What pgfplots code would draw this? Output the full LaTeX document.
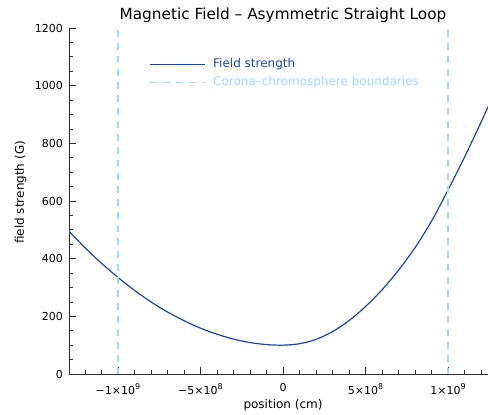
\documentclass[border=0pt]{standalone}
\usepackage{pgfplots}
\pgfplotsset{compat=1.18}
\usepackage{pgfplotstable}
\usepackage{fontspec}
\setmainfont{DejaVu Sans}

\definecolor{fieldblue}{RGB}{28,72,165}
\definecolor{bndblue}{RGB}{160,214,255}
\definecolor{axisgray}{RGB}{45,45,45}

% exponent for the x tick labels
\newcommand{\ex}[1]{\raisebox{0.85ex}{\fontsize{8bp}{8bp}\selectfont #1}}

% field strength (G) along the loop, position in cm
\pgfplotstableread{
x       B
-1.3e9  497
-1.2e9  438
-1.1e9  384
-1.0e9  335
-0.9e9  290
-0.8e9  250
-0.7e9  215
-0.6e9  185
-0.5e9  159
-0.4e9  138
-0.3e9  121
-0.2e9  109
-0.1e9  102
0       100
0.1e9   105
0.2e9   120
0.3e9   147
0.4e9   185
0.5e9   234
0.6e9   292
0.7e9   360
0.8e9   438
0.9e9   530
1.0e9   638
1.1e9   752
1.2e9   873
1.3e9   1000
}\fieldtable

\begin{document}
\begin{tikzpicture}
\begin{axis}[
  scale only axis, width=419bp, height=346bp,
  xmin=-1.297e9, xmax=1.2424e9, ymin=0, ymax=1200,
  clip mode=individual,
  axis lines=left,
  axis line style={-, axisgray, line width=0.8bp},
  tick align=inside,
  major tick length=7bp, minor tick length=4bp,
  every tick/.style={axisgray, line width=0.8bp},
  scaled x ticks=false, scaled y ticks=false,
  xtick={-1e9,-5e8,0,5e8,1e9},
  xticklabels={−1×10\ex{9}, −5×10\ex{8}, 0, 5×10\ex{8}, 1×10\ex{9}},
  minor xtick={-1.2e9,-1.1e9,-9e8,-8e8,-7e8,-6e8,-4e8,-3e8,-2e8,-1e8,1e8,2e8,3e8,4e8,6e8,7e8,8e8,9e8,1.1e9,1.2e9},
  ytick={0,200,400,600,800,1000,1200},
  yticklabels={0,200,400,600,800,1000,1200},
  minor ytick={50,100,150,250,300,350,450,500,550,650,700,750,850,900,950,1050,1100,1150},
  xticklabel style={font=\fontsize{11bp}{13bp}\selectfont, inner sep=0pt, anchor=north, yshift=-9bp},
  yticklabel style={font=\fontsize{11bp}{13bp}\selectfont, inner sep=0pt, anchor=east, xshift=-6bp},
  legend image code/.code={\draw[#1] (0bp,0bp) -- (55bp,0bp);},
  legend cell align=left,
  legend style={at={(rel axis cs:0.1916,0.912)}, anchor=north west,
    draw=none, fill=none, inner sep=0pt,
    font=\fontsize{12bp}{14bp}\selectfont,
    row sep=6bp,
    nodes={inner sep=0pt, text height=9bp, text depth=3bp},
    /tikz/every odd column/.append style={column sep=7.5bp}},
]
\addplot[fieldblue, line width=1.2bp, smooth] table[x=x, y=B] {\fieldtable};
\addlegendentry{\textcolor{fieldblue}{Field strength}}

\addplot[bndblue, line width=1.2bp, dash pattern=on 7bp off 6bp]
  coordinates {(-1e9,1192) (-1e9,0)};
\addlegendentry{\textcolor{bndblue}{Corona–chromosphere boundaries}}
\addplot[bndblue, line width=1.2bp, dash pattern=on 7bp off 6bp, forget plot]
  coordinates {(1e9,1192) (1e9,0)};

\node[anchor=base, font=\fontsize{15.3bp}{18bp}\selectfont] at (axis cs:0,1200) [yshift=8.7bp]
  {Magnetic Field – Asymmetric Straight Loop};
\node[anchor=base, font=\fontsize{12bp}{14bp}\selectfont] at (axis cs:0,0) [yshift=-34bp]
  {position (cm)};
\node[anchor=base, rotate=90, font=\fontsize{12bp}{14bp}\selectfont]
  at ([xshift=-45bp]rel axis cs:0,0.525) {field strength (G)};
\end{axis}
\pgfresetboundingbox
\path (current axis.south west) ++(-69bp,-41bp) rectangle ++(488bp,415bp);
\end{tikzpicture}
\end{document}
